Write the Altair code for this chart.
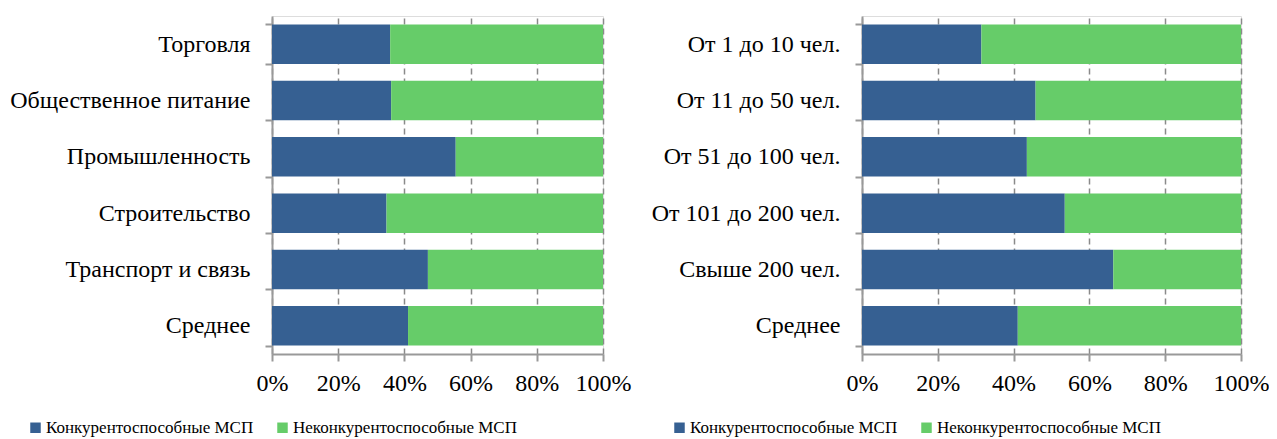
import altair as alt
import pandas as pd

series = ["Конкурентоспособные МСП", "Неконкурентоспособные МСП"]
colors = ["#366092", "#66cc69"]

sectors = ["Торговля", "Общественное питание", "Промышленность",
           "Строительство", "Транспорт и связь", "Среднее"]
sector_comp = [0.357, 0.360, 0.555, 0.346, 0.471, 0.411]

sizes = ["От 1 до 10 чел.", "От 11 до 50 чел.", "От 51 до 100 чел.",
         "От 101 до 200 чел.", "Свыше 200 чел.", "Среднее"]
size_comp = [0.315, 0.458, 0.435, 0.535, 0.663, 0.411]

x_ticks = [0, 0.2, 0.4, 0.6, 0.8, 1.0]

FONT = "Liberation Serif"


def long_df(cats, comp):
    rows = []
    for c, v in zip(cats, comp):
        rows.append({"cat": c, "series": series[0], "value": v, "ord": 0})
        rows.append({"cat": c, "series": series[1], "value": 1 - v, "ord": 1})
    return pd.DataFrame(rows)


def panel(cats, comp, width, legend_x, legend_y):
    df = long_df(cats, comp)
    return alt.Chart(df).mark_bar().encode(
        y=alt.Y("cat:N", sort=cats, title=None,
                scale=alt.Scale(paddingInner=0.3, paddingOuter=0.15),
                axis=alt.Axis(tickBand="extent", grid=False, labelFontSize=24,
                              labelPadding=15, labelLimit=400)),
        x=alt.X("value:Q", stack="zero", title=None,
                scale=alt.Scale(domain=[0, 1], nice=False),
                axis=alt.Axis(values=x_ticks, format=".0%", labelFontSize=24,
                              labelPadding=10, grid=True, gridDash=[6, 4],
                              gridColor="#8a8a8a", gridWidth=1.5,
                              labelFlush=False)),
        color=alt.Color("series:N", sort=series,
                        scale=alt.Scale(domain=series, range=colors),
                        legend=alt.Legend(orient="none", direction="horizontal",
                                          legendX=legend_x, legendY=legend_y,
                                          title=None)),
        order=alt.Order("ord:Q"),
    ).properties(width=width, height=338)


left = panel(sectors, sector_comp, 331, -245, 403)
right = panel(sizes, size_comp, 379, -191, 403)

chart = alt.hconcat(left, right, spacing=259, bounds="flush").resolve_scale(
    color="independent", y="independent"
).properties(
    autosize=alt.AutoSizeParams(type="none"),
    padding={"left": 264, "top": 8, "right": 997, "bottom": 415},
).configure_view(stroke=None).configure(
    font=FONT
).configure_axis(
    labelFont=FONT, labelColor="#000", tickSize=7, tickColor="#999",
    tickWidth=2, domainColor="#999", domainWidth=2
).configure_legend(
    labelFont=FONT, labelFontSize=17, labelColor="#000", labelLimit=400,
    symbolType="square", symbolSize=110, symbolStrokeWidth=0,
    columnPadding=20, symbolOffset=0, labelOffset=2
)

chart.save("out.html", embed_options={"renderer": "svg", "actions": False})
